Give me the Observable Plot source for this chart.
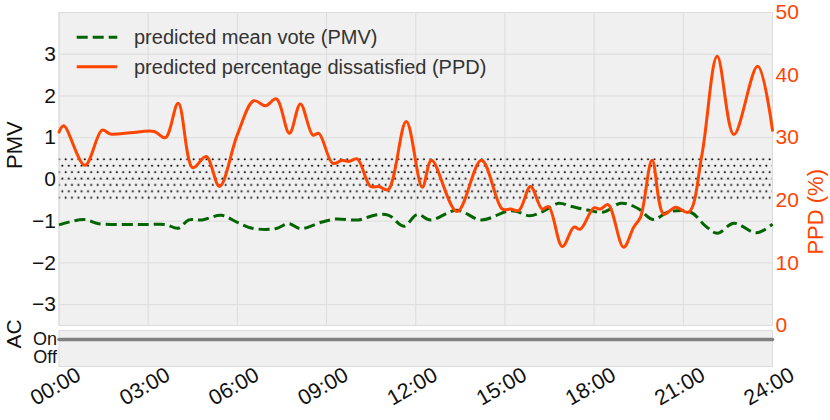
<!DOCTYPE html>
<html><head><meta charset="utf-8">
<script src="https://cdn.jsdelivr.net/npm/d3@7"></script>
<script src="https://cdn.jsdelivr.net/npm/@observablehq/plot@0.6"></script>
<style>
body{margin:0;background:#fff;font-family:"Liberation Sans",Arial,sans-serif;}
#wrap{position:relative;width:830px;height:420px;overflow:hidden;}
#wrap > svg{position:absolute;left:0;}
</style></head><body><div id="wrap"></div>
<script>
// ---- data ----
const pmvHours = [0,0.83,1.34,2.4,3.0,3.58,4.01,4.37,4.82,5.46,6.0,6.5,7.28,7.73,8.12,8.85,9.3,10.08,10.65,11.09,11.6,12.05,12.5,13.39,14.2,15.09,15.36,15.83,16.3,16.81,17.2,17.77,18.32,18.9,19.46,19.98,20.5,21.24,21.75,22.14,22.7,23.46,24];
const pmvValues = [-1.09,-0.96,-1.06,-1.08,-1.08,-1.08,-1.17,-0.97,-0.97,-0.86,-1.03,-1.17,-1.18,-1.06,-1.18,-1.02,-0.95,-0.97,-0.85,-0.86,-1.12,-0.84,-0.97,-0.74,-0.97,-0.76,-0.76,-0.87,-0.76,-0.57,-0.64,-0.73,-0.78,-0.57,-0.69,-0.96,-0.78,-0.78,-1.12,-1.29,-1.05,-1.28,-1.07];
const ppdHours = [0,0.16,0.87,1.45,1.73,2.4,3.2,3.58,4.01,4.5,4.95,5.4,6.0,6.55,6.95,7.31,7.75,8.12,8.54,8.74,9.21,9.53,9.75,10.03,10.48,10.76,11.07,11.68,12.22,12.53,13.39,14.21,14.91,15.19,15.47,15.86,16.25,16.47,16.93,17.32,17.54,17.99,18.21,18.47,18.99,19.33,19.56,19.95,20.34,20.74,21.18,21.63,22.14,22.7,23.5,24];
const ppdValues = [30.9,31.9,25.6,31.2,30.6,30.8,31.0,30.0,35.5,25.2,27.0,22.2,30.5,35.9,35.1,36.2,30.7,35.4,30.4,30.7,25.9,26.4,26.2,26.6,22.2,22.2,21.7,32.6,22.1,26.4,18.2,26.4,18.6,18.6,18.4,22.2,18.6,19.0,12.6,15.7,15.4,18.8,18.6,19.3,12.5,15.7,17.3,26.4,17.8,18.9,18.1,27.4,43.0,30.5,41.4,31.2];
const acHours = [0, 24];
const acStates = ["On", "On"];
const acCategories = ["On", "Off"];
const xTicks = [0,3,6,9,12,15,18,21,24];
const xTickLabels = ["00:00","03:00","06:00","09:00","12:00","15:00","18:00","21:00","24:00"];
const pmvTicks = [-3,-2,-1,0,1,2,3];
const ppdTicks = [0,10,20,30,40,50];
const pmvDomain = [-3.5, 4];
const ppdDomain = [0, 50];
const comfortBand = [{lo:-0.5, hi:0.5}];
const seriesNames = ["predicted mean vote (PMV)", "predicted percentage dissatisfied (PPD)"];

// ---- helpers ----
const GREEN = "#006400", ORANGE = "#ff4500", GRID = "#dcdcdc", BG = "#f0f0f0";
const FONT = '"Liberation Sans", Arial, sans-serif';
const toPmv = v => pmvDomain[0] + (v - ppdDomain[0]) * (pmvDomain[1]-pmvDomain[0])/(ppdDomain[1]-ppdDomain[0]);
const pmvData = pmvHours.map((h,i) => ({h, v: pmvValues[i]}));
const ppdData = ppdHours.map((h,i) => ({h, v: ppdValues[i]}));
const acData = acHours.map((h,i) => ({h, s: acStates[i]}));
const xt = xTicks.map((t,i) => ({t, label: xTickLabels[i]}));

const wrap = document.getElementById("wrap");

const main = Plot.plot({
  width: 830, height: 340,
  marginLeft: 58.5, marginRight: 58, marginTop: 12, marginBottom: 15,
  style: {fontFamily: FONT, background: "transparent", overflow: "visible", color: "#111"},
  x: {domain: [0, 24], axis: null},
  y: {domain: pmvDomain},
  marks: [
    Plot.frame({fill: BG}),
    Plot.gridX({ticks: xTicks, stroke: GRID, strokeOpacity: 1, strokeWidth: 1}),
    Plot.gridY({ticks: pmvTicks, stroke: GRID, strokeOpacity: 1, strokeWidth: 1}),
    Plot.rect(comfortBand, {x1: () => 0, x2: () => 24, y1: "lo", y2: "hi", fill: "url(#dots)"}),
    Plot.frame({stroke: GRID}),
    Plot.line(pmvData, {x: "h", y: "v", stroke: GREEN, strokeWidth: 3, strokeDasharray: "11,5", strokeLinecap: "butt", curve: "catmull-rom"}),
    Plot.line(ppdData, {x: "h", y: d => toPmv(d.v), stroke: ORANGE, strokeWidth: 3, curve: "catmull-rom"}),
    Plot.axisY({anchor: "left", ticks: pmvTicks, tickSize: 0, tickPadding: 3, fontSize: 21, label: null}),
    Plot.axisY({anchor: "right", ticks: ppdTicks.map(toPmv), tickFormat: (d, i) => String(ppdTicks[i]), tickSize: 0, tickPadding: 3, fontSize: 21, fill: ORANGE, label: null}),
    Plot.text(["PMV"], {frameAnchor: "left", dx: -44.5, rotate: -90, fontSize: 22, fill: "#111"}),
    Plot.text(["PPD (%)"], {frameAnchor: "right", dx: 43, rotate: -90, fontSize: 22, fill: ORANGE})
  ]
});
main.style.top = "0px";
main.style.zIndex = 2;
d3.select(main).insert("defs", ":first-child").html(
  `<pattern id="dots" patternUnits="userSpaceOnUse" width="6.4" height="12.8" patternTransform="translate(0,2.5)">
     <circle cx="1.6" cy="3.2" r="1" fill="#000"/>
     <circle cx="4.8" cy="9.6" r="1" fill="#000"/>
   </pattern>`);

const ac = Plot.plot({
  width: 830, height: 94,
  marginLeft: 58.5, marginRight: 58, marginTop: 4, marginBottom: 54,
  style: {fontFamily: FONT, background: "transparent", overflow: "visible", color: "#111"},
  x: {domain: [0, 24], axis: null},
  y: {type: "point", domain: acCategories, padding: 0.5},
  marks: [
    Plot.frame({fill: BG, stroke: GRID}),
    Plot.line(acData, {x: "h", y: "s", stroke: "#808080", strokeWidth: 3.5}),
    Plot.axisY({tickSize: 0, tickPadding: 2, fontSize: 18, label: null}),
    Plot.text(["AC"], {frameAnchor: "left", dx: -45, rotate: -90, fontSize: 21, fill: "#111"}),
    Plot.text(xt, {x: "t", text: "label", frameAnchor: "bottom", dy: 26, rotate: -30, fontSize: 21.5, fill: "#111"})
  ]
});
ac.style.top = "326px";
ac.style.zIndex = 1;

wrap.appendChild(ac);
wrap.appendChild(main);

// legend (inside the plot area, top-left)
const leg = d3.create("svg").attr("width", 420).attr("height", 70)
  .style("position", "absolute").style("left", "70px").style("top", "20px").style("z-index", 3)
  .style("font-family", FONT);
const legStyles = [{stroke: GREEN, dash: "11,5"}, {stroke: ORANGE, dash: null}];
seriesNames.forEach((name, i) => {
  const y = 17.3 + i * 29.4;
  leg.append("line").attr("x1", 6.7).attr("x2", 47.3).attr("y1", y).attr("y2", y)
    .attr("stroke", legStyles[i].stroke).attr("stroke-width", 3)
    .attr("stroke-dasharray", legStyles[i].dash);
  leg.append("text").attr("x", 64).attr("y", y).attr("dy", "0.35em")
    .attr("font-size", 20).attr("fill", "#333").text(name);
});
wrap.appendChild(leg.node());
</script></body></html>
